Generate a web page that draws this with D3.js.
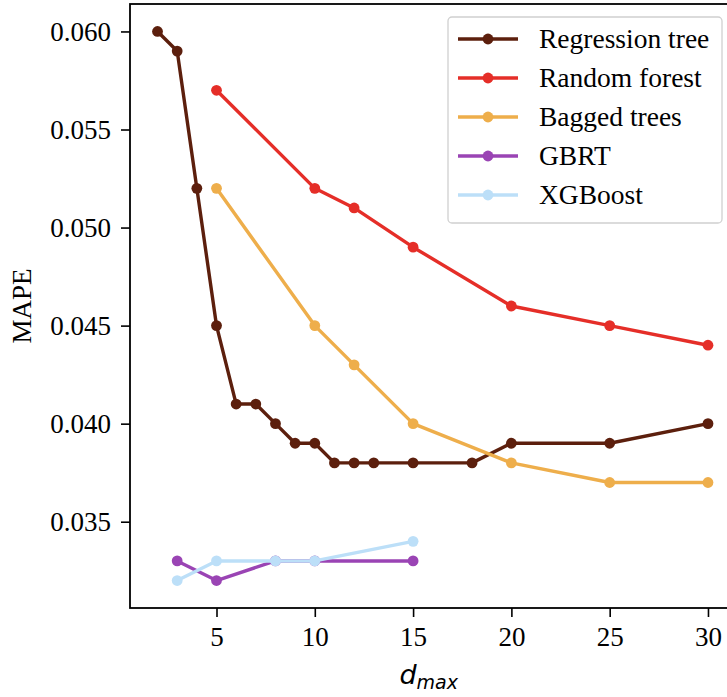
<!DOCTYPE html>
<html>
<head>
<meta charset="utf-8">
<script src="https://cdn.jsdelivr.net/npm/d3@7"></script>
<style>
  body { margin: 0; background: #fff; }
  svg text { font-family: 'Liberation Serif', 'Times New Roman', serif; fill: #000; }
</style>
</head>
<body>
<div class="chart"></div>
<script>
// data
var seriesNames = ["Regression tree", "Random forest", "Bagged trees", "GBRT", "XGBoost"];
var seriesColors = ["#5c1f0d", "#e52e28", "#eeae4b", "#9a44b4", "#bcdff8"];

var treeDepth = [2, 3, 4, 5, 6, 7, 8, 9, 10, 11, 12, 13, 15, 18, 20, 25, 30];
var treeMape = [0.060, 0.059, 0.052, 0.045, 0.041, 0.041, 0.040, 0.039, 0.039, 0.038, 0.038, 0.038, 0.038, 0.038, 0.039, 0.039, 0.040];

var forestDepth = [5, 10, 12, 15, 20, 25, 30];
var forestMape = [0.057, 0.052, 0.051, 0.049, 0.046, 0.045, 0.044];

var baggedDepth = [5, 10, 12, 15, 20, 25, 30];
var baggedMape = [0.052, 0.045, 0.043, 0.040, 0.038, 0.037, 0.037];

var gbrtDepth = [3, 5, 8, 10, 15];
var gbrtMape = [0.033, 0.032, 0.033, 0.033, 0.033];

var xgbDepth = [3, 5, 8, 10, 15];
var xgbMape = [0.032, 0.033, 0.033, 0.033, 0.034];

var xTicks = [5, 10, 15, 20, 25, 30];
var yTicks = [0.035, 0.040, 0.045, 0.050, 0.055, 0.060];

// chart setup
var svgWidth = 727;
var svgHeight = 697;

var margin = { top: 4, left: 130 };
var plotRight = 735.5;
var plotBottom = 608;

var svg = d3.select(".chart")
  .append("svg")
  .attr("width", svgWidth)
  .attr("height", svgHeight);

var xScale = d3.scaleLinear().domain([0.6, 31.4]).range([margin.left, plotRight]);
var yScale = d3.scaleLinear().domain([0.0306, 0.0614]).range([plotBottom, margin.top]);

// series
var allSeries = [
  { x: treeDepth, y: treeMape },
  { x: forestDepth, y: forestMape },
  { x: baggedDepth, y: baggedMape },
  { x: gbrtDepth, y: gbrtMape },
  { x: xgbDepth, y: xgbMape }
];

var line = d3.line()
  .x(d => xScale(d[0]))
  .y(d => yScale(d[1]));

allSeries.forEach(function(s, i) {
  var pts = s.x.map((v, j) => [v, s.y[j]]);
  var g = svg.append("g");
  g.append("path")
    .datum(pts)
    .attr("d", line)
    .attr("fill", "none")
    .attr("stroke", seriesColors[i])
    .attr("stroke-width", 3.4)
    .attr("stroke-linejoin", "round");
  g.selectAll("circle")
    .data(pts)
    .enter()
    .append("circle")
    .attr("cx", d => xScale(d[0]))
    .attr("cy", d => yScale(d[1]))
    .attr("r", 5.4)
    .attr("fill", seriesColors[i]);
});

// axes
var bottomAxis = d3.axisBottom(xScale).tickValues(xTicks).tickFormat(d3.format("d")).tickSizeOuter(0).tickSize(9).tickPadding(10);
var leftAxis = d3.axisLeft(yScale).tickValues(yTicks).tickFormat(d3.format(".3f")).tickSizeOuter(0).tickSize(9).tickPadding(10);

var xAxis = svg.append("g")
  .attr("transform", `translate(0, ${plotBottom})`)
  .call(bottomAxis);
var yAxis = svg.append("g")
  .attr("transform", `translate(${margin.left}, 0)`)
  .call(leftAxis);

[xAxis, yAxis].forEach(function(ax) {
  ax.attr("font-family", null).attr("font-size", null);
  ax.select(".domain").remove();
  ax.selectAll("line").attr("stroke", "#000").attr("stroke-width", 1.6);
  ax.selectAll("text")
    .style("font-family", "'Liberation Serif', serif", "important")
    .style("font-size", "27px", "important");
});

// frame
svg.append("rect")
  .attr("x", margin.left)
  .attr("y", margin.top)
  .attr("width", plotRight - margin.left)
  .attr("height", plotBottom - margin.top)
  .attr("fill", "none")
  .attr("stroke", "#000")
  .attr("stroke-width", 1.8);

// axis labels
svg.append("text")
  .attr("transform", `translate(31, ${(margin.top + plotBottom) / 2}) rotate(-90)`)
  .attr("text-anchor", "middle")
  .attr("font-size", 27)
  .text("MAPE");

var xLabel = svg.append("text")
  .attr("x", (margin.left + plotRight) / 2 - 4)
  .attr("y", 684)
  .attr("text-anchor", "middle")
  .style("font-family", "'DejaVu Sans', sans-serif")
  .style("font-style", "italic")
  .style("font-size", "27px");
xLabel.append("tspan").text("d");
xLabel.append("tspan")
  .attr("dy", 5)
  .style("font-size", "19px")
  .text("max");

// legend
var legend = svg.append("g").attr("transform", "translate(448, 17)");
legend.append("rect")
  .attr("width", 274)
  .attr("height", 206)
  .attr("rx", 4)
  .attr("fill", "#fff")
  .attr("fill-opacity", 0.8)
  .attr("stroke", "#d0d0d0")
  .attr("stroke-width", 1.3);

seriesNames.forEach(function(name, i) {
  var row = legend.append("g").attr("transform", `translate(0, ${22 + i * 39})`);
  row.append("line")
    .attr("x1", 10).attr("x2", 70)
    .attr("stroke", seriesColors[i])
    .attr("stroke-width", 3.4);
  row.append("circle")
    .attr("cx", 40)
    .attr("r", 5.4)
    .attr("fill", seriesColors[i]);
  row.append("text")
    .attr("x", 91)
    .attr("dy", "0.33em")
    .attr("font-size", 27.5)
    .text(name);
});
</script>
</body>
</html>
